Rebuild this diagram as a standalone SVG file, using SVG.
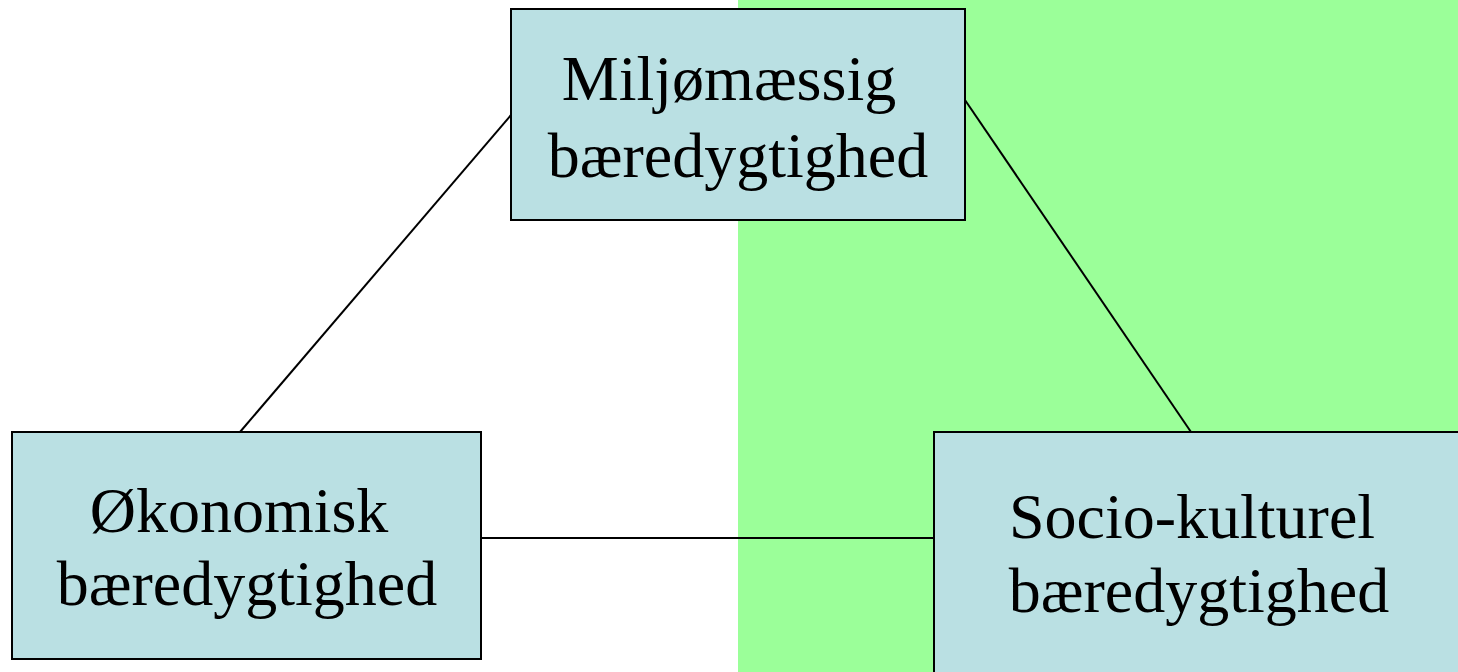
<svg xmlns="http://www.w3.org/2000/svg" width="1458" height="672" viewBox="0 0 1458 672">
<style>
.box{fill:#BAE0E3;stroke:#000;stroke-width:2}
.lbl{font-family:"Liberation Serif","Times New Roman",serif;font-size:64px;fill:#000;text-anchor:middle}
.conn{stroke:#000;stroke-width:2;fill:none}
</style>
<rect x="0" y="0" width="1458" height="672" fill="#FFFFFF"/>
<rect x="738" y="0" width="720" height="672" fill="#9BFF99"/>
<g id="connectors">
<line class="conn" x1="511" y1="115" x2="240" y2="432"/>
<line class="conn" x1="965" y1="100" x2="1191" y2="432"/>
<line class="conn" x1="481" y1="538" x2="934" y2="538"/>
</g>
<g id="node-miljo">
<rect class="box" x="511" y="9" width="454" height="211"/>
<text class="lbl" x="729" y="100">Miljømæssig</text>
<text class="lbl" x="738" y="177">bæredygtighed</text>
</g>
<g id="node-okonomisk">
<rect class="box" x="12" y="432" width="469" height="227"/>
<text class="lbl" x="239" y="532">Økonomisk</text>
<text class="lbl" x="247" y="605">bæredygtighed</text>
</g>
<g id="node-socio">
<rect class="box" x="934" y="432" width="532" height="250"/>
<text class="lbl" x="1192" y="538">Socio-kulturel</text>
<text class="lbl" x="1199" y="612">bæredygtighed</text>
</g>
</svg>
